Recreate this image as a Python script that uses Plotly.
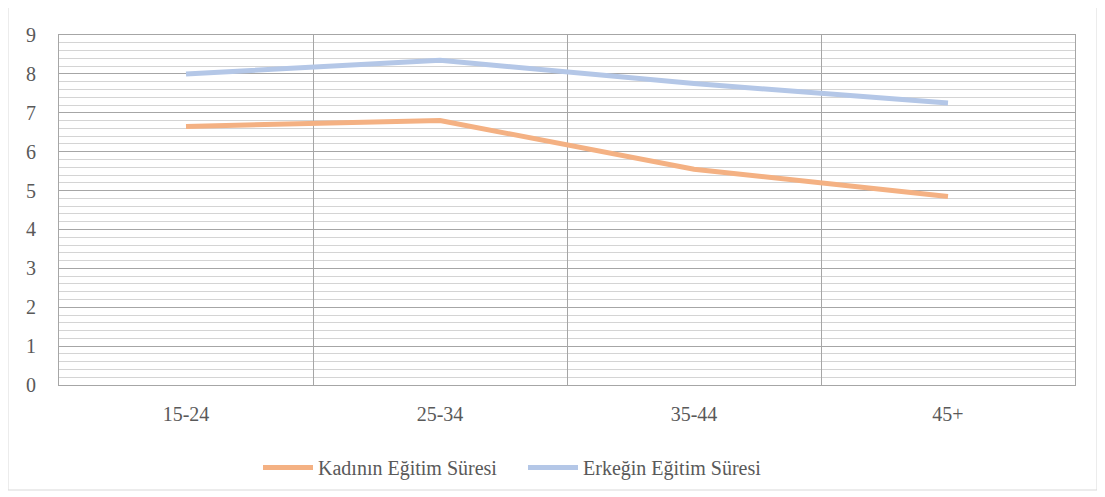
import plotly.graph_objects as go

categories = ["15-24", "25-34", "35-44", "45+"]
kadin = [6.65, 6.8, 5.55, 4.85]
erkek = [8.0, 8.35, 7.75, 7.25]
series_names = ["Kadının Eğitim Süresi", "Erkeğin Eğitim Süresi"]

fig = go.Figure()
fig.add_trace(go.Scatter(x=categories, y=kadin, mode="lines", name=series_names[0],
                         line=dict(color="#F4B183", width=5)))
fig.add_trace(go.Scatter(x=categories, y=erkek, mode="lines", name=series_names[1],
                         line=dict(color="#B4C7E7", width=5)))

fam = "Times New Roman, Liberation Serif, serif"
font = dict(family=fam, size=20, color="#595959")
# page body has an 8px margin: compensate
W, H, off = 1105, 497, 8
L, R, T, B = 59 - off, 30, 35 - off, 112
fig.update_layout(
    width=W - off, height=H - off,
    margin=dict(l=L, r=R, t=T, b=B, autoexpand=False),
    paper_bgcolor="white", plot_bgcolor="white",
    font=font,
    showlegend=True,
    legend=dict(orientation="h", x=(258 - 59) / 1016, xanchor="left", y=-0.18, yanchor="top",
                font=dict(family=fam, size=20, color="#595959"),
                bgcolor="rgba(0,0,0,0)", tracegroupgap=0, itemwidth=50,
                entrywidth=200, entrywidthmode="pixels"),
    xaxis=dict(type="category", range=[-0.5, 3.5], tickson="boundaries", showgrid=True,
               gridcolor="#a6a6a6", gridwidth=1, showline=True, linecolor="#a6a6a6",
               mirror=True, ticks="", ticklabelstandoff=11, zeroline=False, automargin=False),
    yaxis=dict(range=[0, 9], dtick=1, showgrid=True, gridcolor="#a6a6a6", gridwidth=1,
               minor=dict(dtick=0.2, showgrid=True, gridcolor="#d4d4d4", gridwidth=1),
               showline=True, linecolor="#a6a6a6", mirror=True, ticks="",
               ticklabelstandoff=18, zeroline=False, automargin=False),
)
fig.add_shape(type="rect", xref="paper", yref="paper",
              x0=-51/1016, x1=1+22/1016, y0=-105/350, y1=1+30/350,
              line=dict(color="#d9d9d9", width=1), fillcolor="rgba(0,0,0,0)", layer="below")
fig.write_html("out.html")
